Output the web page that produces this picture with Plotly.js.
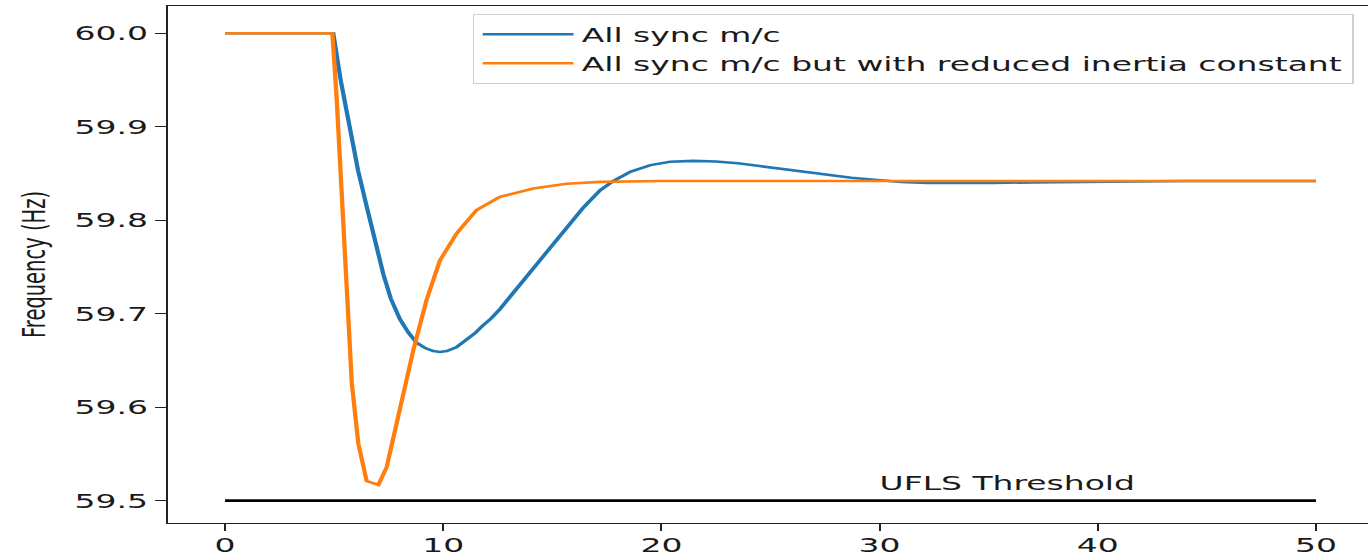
<!DOCTYPE html>
<html>
<head>
<meta charset="utf-8">
<script src="https://cdn.plot.ly/plotly-3.0.1.min.js"></script>
<style>
  html, body { margin: 0; padding: 0; background: #ffffff; overflow: hidden; width: 1368px; height: 558px; }
  #plot { width: 832px; height: 558px; transform: scaleX(1.65); transform-origin: 0 0; }
</style>
</head>
<body>
<div id="plot"></div>
<script>
// ---- data ----
const seriesNames = ["All sync m/c", "All sync m/c but with reduced inertia constant"];

const syncTime = [0, 4.96, 5.3, 5.73, 6.1, 6.49, 6.9, 7.26, 7.6, 8.02, 8.4, 8.78, 9.2, 9.55, 9.85, 10.16, 10.6, 11.08, 11.45, 11.8, 12.2, 12.6, 13.3, 14.1, 14.9, 15.66, 16.4, 17.19, 17.8, 18.6, 19.5, 20.4, 21.46, 22.5, 23.5, 24.5, 25.5, 26.5, 27.6, 28.7, 29.9, 31, 32.2, 33.5, 35.2, 37, 39, 41, 44, 47, 50];
const syncFreq = [60.0, 60.0, 59.950, 59.895, 59.853, 59.815, 59.776, 59.742, 59.716, 59.694, 59.680, 59.669, 59.663, 59.660, 59.659, 59.660, 59.664, 59.672, 59.679, 59.687, 59.695, 59.705, 59.725, 59.747, 59.770, 59.793, 59.813, 59.832, 59.842, 59.852, 59.859, 59.8625, 59.8635, 59.8628, 59.861, 59.858, 59.855, 59.852, 59.848, 59.8455, 59.843, 59.841, 59.840, 59.8397, 59.8400, 59.8405, 59.841, 59.8415, 59.842, 59.842, 59.842];

const lowHTime = [0, 4.92, 5.12, 5.35, 5.58, 5.81, 6.11, 6.49, 6.75, 7.03, 7.41, 8.02, 8.63, 9.24, 9.85, 10.62, 11.53, 12.6, 14.13, 15.66, 17.2, 20, 25, 30, 40, 50];
const lowHFreq = [60.0, 60.0, 59.929, 59.822, 59.715, 59.626, 59.561, 59.521, 59.519, 59.517, 59.536, 59.597, 59.661, 59.715, 59.757, 59.786, 59.811, 59.825, 59.834, 59.839, 59.841, 59.842, 59.842, 59.842, 59.842, 59.842];

const thresholdTime = [0, 50];
const thresholdFreq = [59.5, 59.5];
const thresholdLabel = "UFLS Threshold";
const yTitle = "Frequency (Hz)";
const xTickVals = [0, 10, 20, 30, 40, 50];
const yTickVals = [59.5, 59.6, 59.7, 59.8, 59.9, 60.0];

const tickFont = { family: "DejaVu Sans", size: 20, color: "#1a1a1a" };

const traces = [
  { x: thresholdTime, y: thresholdFreq, mode: "lines", line: { color: "#000000", width: 2.6 }, showlegend: false, hoverinfo: "skip" },
  { x: syncTime, y: syncFreq, mode: "lines", name: seriesNames[0], line: { color: "#1f77b4", width: 2.6 } },
  { x: lowHTime, y: lowHFreq, mode: "lines", name: seriesNames[1], line: { color: "#ff7f0e", width: 2.6 } }
];

const layout = {
  width: 832, height: 558,
  margin: { l: 102, r: 1, t: 6, b: 35 },
  paper_bgcolor: "#ffffff", plot_bgcolor: "#ffffff",
  font: tickFont,
  xaxis: {
    range: [-2.6, 52.53], tickvals: xTickVals, ticks: "outside", ticklen: 7, tickwidth: 1.3, tickcolor: "#222",
    showline: true, linecolor: "#222", linewidth: 1.3, mirror: true, showgrid: false, zeroline: false,
    tickfont: tickFont, ticklabelstandoff: -3
  },
  yaxis: {
    range: [59.4761, 60.0292], tickvals: yTickVals, tickformat: ".1f", ticks: "outside", ticklen: 7, tickwidth: 1.3, tickcolor: "#222",
    showline: true, linecolor: "#222", linewidth: 1.3, mirror: false, showgrid: false, zeroline: false,
    tickfont: tickFont,
    title: { text: yTitle, font: { family: "DejaVu Sans", size: 19.5, color: "#1a1a1a" }, standoff: 12 }
  },
  legend: {
    x: 0.9857, xanchor: "right", y: 0.985, yanchor: "top",
    bgcolor: "rgba(255,255,255,0.8)", bordercolor: "#d0d0d0", borderwidth: 1,
    font: { family: "DejaVu Sans", size: 20, color: "#1a1a1a" }, itemwidth: 55, traceorder: "normal"
  },
  annotations: [{
    x: 30, y: 59.5, xref: "x", yref: "y", text: thresholdLabel, showarrow: false,
    xanchor: "left", yanchor: "bottom", yshift: 4, xshift: -2,
    font: { family: "DejaVu Sans", size: 20, color: "#1a1a1a" }
  }]
};

Plotly.newPlot("plot", traces, layout, { staticPlot: true, displayModeBar: false });
</script>
</body>
</html>
